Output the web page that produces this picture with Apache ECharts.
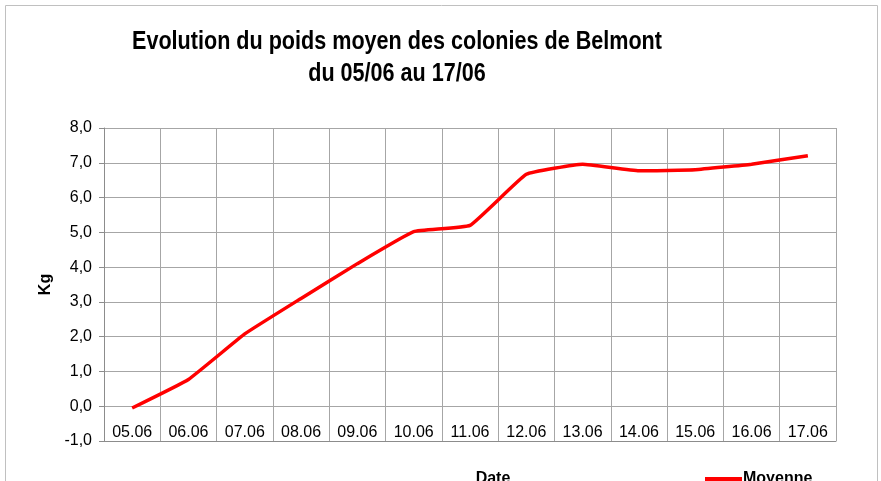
<!DOCTYPE html>
<html>
<head>
<meta charset="utf-8">
<script src="https://cdn.jsdelivr.net/npm/echarts@6/dist/echarts.min.js"></script>
<style>
  html, body { margin: 0; padding: 0; background: #fff; }
  #chart { width: 881px; height: 481px; }
</style>
</head>
<body>
<div id="chart"></div>
<script>
// dates (jour.mois)
var dates = ["05.06", "06.06", "07.06", "08.06", "09.06", "10.06", "11.06",
  "12.06", "13.06", "14.06", "15.06", "16.06", "17.06"];
// poids moyen (kg)
var moyenne = [-0.05, 0.77, 2.08, 3.1, 4.1, 5.02, 5.2, 6.67, 6.96, 6.77, 6.8, 6.96, 7.2];
var titre = ["Evolution du poids moyen des colonies de Belmont", "du 05/06 au 17/06"];

var gridColor = "#a6a6a6";
var font = "Liberation Sans";

// titre en police étroite (effet Calibri) : texte réel compressé horizontalement
function titleLine(txt, y) {
  return {
    type: "text",
    x: 397,
    y: y,
    scaleX: 0.83,
    style: {
      text: txt,
      x: 0,
      y: 0,
      align: "center",
      verticalAlign: "middle",
      font: "bold 26px 'Liberation Sans'",
      fill: "#000"
    }
  };
}

var myChart = echarts.init(document.getElementById("chart"));
var option = {
  animation: false,
  legend: {
    data: ["Moyenne"],
    left: 700,
    top: 466,
    icon: "rect",
    itemWidth: 37,
    itemHeight: 4,
    itemGap: 4,
    textStyle: { fontFamily: font, fontWeight: "bold", fontSize: 16, color: "#000", padding: [0, 0, 0, -4] }
  },
  graphic: [
    {
      type: "rect",
      shape: { x: 5.5, y: 5.5, width: 872, height: 500 },
      style: { fill: "none", stroke: "#c0c0c0", lineWidth: 1 }
    },
    titleLine(titre[0], 42),
    titleLine(titre[1], 74)
  ],
  grid: { left: 104, right: 45, top: 128, bottom: 40, containLabel: false, outerBoundsMode: "none" },
  xAxis: {
    type: "category",
    data: dates,
    boundaryGap: true,
    name: "Date",
    nameLocation: "middle",
    nameGap: 30,
    nameTextStyle: { fontFamily: font, fontWeight: "bold", fontSize: 16, color: "#000", padding: [0, 0, 0, 46] },
    axisLine: { onZero: false, lineStyle: { color: "#8c8c8c", width: 1 } },
    axisTick: { show: false },
    axisLabel: { inside: true, margin: 0, fontFamily: font, fontSize: 16, color: "#000" },
    splitLine: { show: true, lineStyle: { color: gridColor, width: 1 } }
  },
  yAxis: {
    type: "value",
    min: -1,
    max: 8,
    interval: 1,
    name: "Kg",
    nameLocation: "middle",
    nameGap: 49,
    nameTextStyle: { fontFamily: font, fontWeight: "bold", fontSize: 16, color: "#000" },
    axisLine: { show: true, lineStyle: { color: "#8c8c8c", width: 1 } },
    axisTick: { show: true, length: 5, lineStyle: { color: "#8c8c8c" } },
    axisLabel: {
      margin: 12,
      fontFamily: font,
      fontSize: 16,
      color: "#000",
      formatter: function (v) { return v.toFixed(1).replace(".", ","); }
    },
    splitLine: { show: true, lineStyle: { color: gridColor, width: 1 } }
  },
  series: [{
    name: "Moyenne",
    type: "line",
    data: moyenne,
    smooth: 0.1,
    showSymbol: false,
    symbol: "none",
    lineStyle: { color: "#ff0000", width: 3.5 },
    itemStyle: { color: "#ff0000" }
  }]
};
myChart.setOption(option);
</script>
</body>
</html>
